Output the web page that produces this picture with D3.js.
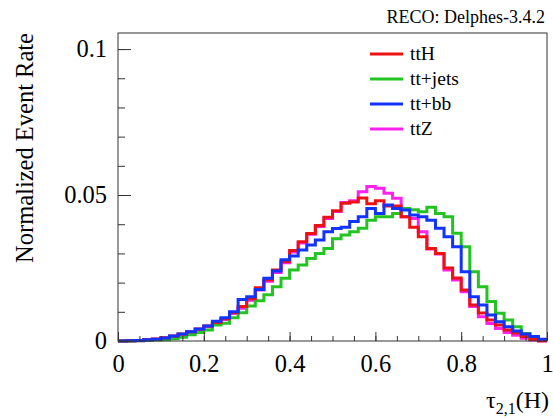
<!DOCTYPE html>
<html>
<head>
<meta charset="utf-8">
<script src="https://cdn.jsdelivr.net/npm/d3@7"></script>
<style>
  body { margin: 0; background: #fff; }
  text { font-family: "Liberation Serif", "DejaVu Serif", serif; fill: #000; }
</style>
</head>
<body>
<div id="chartContainer"></div>
<script>
var width = 553,
  height = 419,
  padLeft = 118, padRight = 547, padTop = 33, padBottom = 341;

// 50 bins of width 0.02 on tau_2,1(H)
var binEdges = d3.range(0, 51).map(function (i) { return i / 50; });

var ttH = [0, 0.0001, 0.0002, 0.0004, 0.0007, 0.0011, 0.0017, 0.0024, 0.0032, 0.0041,
  0.0051, 0.0063, 0.0076, 0.0098, 0.0118, 0.0145, 0.0182, 0.0210, 0.0243, 0.0272,
  0.0310, 0.0340, 0.0368, 0.0396, 0.0424, 0.0446, 0.0472, 0.0476, 0.0490, 0.0470,
  0.0480, 0.0462, 0.0462, 0.0426, 0.0390, 0.0357, 0.0317, 0.0300, 0.0250, 0.0216,
  0.0175, 0.0123, 0.0096, 0.0072, 0.0055, 0.0038, 0.0027, 0.0015, 0.0005, 0.0001];

var ttjets = [0, 0, 0.0001, 0.0002, 0.0003, 0.0004, 0.0008, 0.0013, 0.0021, 0.0029,
  0.0038, 0.0055, 0.0061, 0.0080, 0.0097, 0.0120, 0.0138, 0.0158, 0.0186, 0.0215,
  0.0243, 0.0260, 0.0283, 0.0300, 0.0317, 0.0350, 0.0363, 0.0374, 0.0386, 0.0414,
  0.0426, 0.0426, 0.0437, 0.0454, 0.0450, 0.0443, 0.0458, 0.0437, 0.0426, 0.0369,
  0.0323, 0.0237, 0.0186, 0.0135, 0.0095, 0.0072, 0.0049, 0.0026, 0.0009, 0.0003];

var ttbb = [0, 0.0001, 0.0002, 0.0004, 0.0006, 0.0010, 0.0017, 0.0024, 0.0032, 0.0041,
  0.0051, 0.0068, 0.0080, 0.0100, 0.0142, 0.0152, 0.0176, 0.0215, 0.0240, 0.0278,
  0.0291, 0.0312, 0.0329, 0.0346, 0.0374, 0.0385, 0.0390, 0.0409, 0.0426, 0.0454,
  0.0437, 0.0466, 0.0454, 0.0449, 0.0432, 0.0426, 0.0414, 0.0386, 0.0357, 0.0323,
  0.0237, 0.0152, 0.0123, 0.0089, 0.0066, 0.0049, 0.0034, 0.0024, 0.0015, 0.0006];

var ttZ = [0, 0.0001, 0.0001, 0.0003, 0.0006, 0.0010, 0.0015, 0.0022, 0.0030, 0.0039,
  0.0049, 0.0060, 0.0074, 0.0094, 0.0112, 0.0140, 0.0175, 0.0205, 0.0235, 0.0268,
  0.0305, 0.0336, 0.0366, 0.0392, 0.0420, 0.0444, 0.0474, 0.0480, 0.0511, 0.0529,
  0.0523, 0.0506, 0.0489, 0.0426, 0.0420, 0.0374, 0.0315, 0.0298, 0.0243, 0.0209,
  0.0169, 0.0118, 0.0083, 0.0060, 0.0043, 0.0029, 0.0020, 0.0009, 0.0003, 0];

var legendNames = ["ttH", "tt+jets", "tt+bb", "ttZ"];
var colors = { "ttH": "#ee1111", "tt+jets": "#22c322", "tt+bb": "#1133ff", "ttZ": "#ff22ee" };
var seriesData = { "ttH": ttH, "tt+jets": ttjets, "tt+bb": ttbb, "ttZ": ttZ };
// drawing order (last on top)
var drawOrder = ["ttZ", "tt+jets", "ttH", "tt+bb"];

var xTicks = [0, 0.2, 0.4, 0.6, 0.8, 1];
var yTicks = [0, 0.05, 0.1];
var yTickLabels = ["0", "0.05", "0.1"];

var svg = d3.select("#chartContainer")
  .append("svg")
  .attr("width", width)
  .attr("height", height);

var x = d3.scaleLinear().domain([0, 1]).range([padLeft, padRight]);
var y = d3.scaleLinear().domain([0, 0.1055]).range([padBottom, padTop]);

// histograms
var line = d3.line()
  .x(function (d) { return x(d[0]); })
  .y(function (d) { return y(d[1]); })
  .curve(d3.curveStepAfter);

drawOrder.forEach(function (name) {
  var vals = seriesData[name];
  var pts = vals.map(function (v, i) { return [binEdges[i], v]; });
  pts.push([binEdges[vals.length], vals[vals.length - 1]]);
  svg.append("path")
    .attr("d", line(pts))
    .attr("fill", "none")
    .attr("stroke", colors[name])
    .attr("stroke-width", 3);
});

// frame
svg.append("rect")
  .attr("x", padLeft).attr("y", padTop)
  .attr("width", padRight - padLeft).attr("height", padBottom - padTop)
  .attr("fill", "none").attr("stroke", "#333").attr("stroke-width", 1);

// y axis: ticks point inward
var yMinor = svg.append("g").attr("transform", "translate(" + padLeft + ",0)")
  .call(d3.axisLeft(y).tickValues(d3.range(0, 0.1001, 0.01)).tickSizeInner(-7).tickSizeOuter(0).tickFormat(""));
var yMajor = svg.append("g").attr("transform", "translate(" + padLeft + ",0)")
  .call(d3.axisLeft(y).tickValues(yTicks).tickSizeInner(-13).tickSizeOuter(0)
    .tickPadding(11).tickFormat(function (d, i) { return yTickLabels[i]; }));

// x axis
var xMinor = svg.append("g").attr("transform", "translate(0," + padBottom + ")")
  .call(d3.axisBottom(x).tickValues(d3.range(0, 1.001, 0.05)).tickSizeInner(-5).tickSizeOuter(0).tickFormat(""));
var xMajor = svg.append("g").attr("transform", "translate(0," + padBottom + ")")
  .call(d3.axisBottom(x).tickValues(xTicks).tickSizeInner(-9).tickSizeOuter(0)
    .tickPadding(14).tickFormat(d3.format("")));

[yMinor, yMajor, xMinor, xMajor].forEach(function (g) {
  g.select(".domain").remove();
  g.selectAll(".tick line").attr("stroke", "#333");
  g.selectAll("text").style("font-family", "Liberation Serif").style("font-size", "24.5px").attr("fill", "#000");
});

// axis titles
svg.append("text")
  .attr("transform", "translate(33," + padTop + ") rotate(-90)")
  .attr("text-anchor", "end")
  .style("font-size", "24.5px")
  .text("Normalized Event Rate");

var xt = svg.append("text")
  .attr("x", 549).attr("y", 408)
  .attr("text-anchor", "end")
  .style("font-size", "24px");
xt.append("tspan").text("\u03c4");
xt.append("tspan").attr("dy", 6).style("font-size", "16px").text("2,1");
xt.append("tspan").attr("dy", -6).text("(H)");

svg.append("text")
  .attr("x", 545).attr("y", 23)
  .attr("text-anchor", "end")
  .style("font-size", "18px")
  .text("RECO: Delphes-3.4.2");

// legend
var leg = svg.selectAll(".legend")
  .data(legendNames)
  .enter()
  .append("g")
  .attr("class", "legend")
  .attr("transform", function (d, i) { return "translate(0," + (54 + i * 25) + ")"; });
leg.append("line")
  .attr("x1", 370).attr("x2", 403)
  .attr("stroke", function (d) { return colors[d]; })
  .attr("stroke-width", 3);
leg.append("text")
  .attr("x", 410).attr("y", 6)
  .style("font-size", "19.5px")
  .text(function (d) { return d; });
</script>
</body>
</html>
